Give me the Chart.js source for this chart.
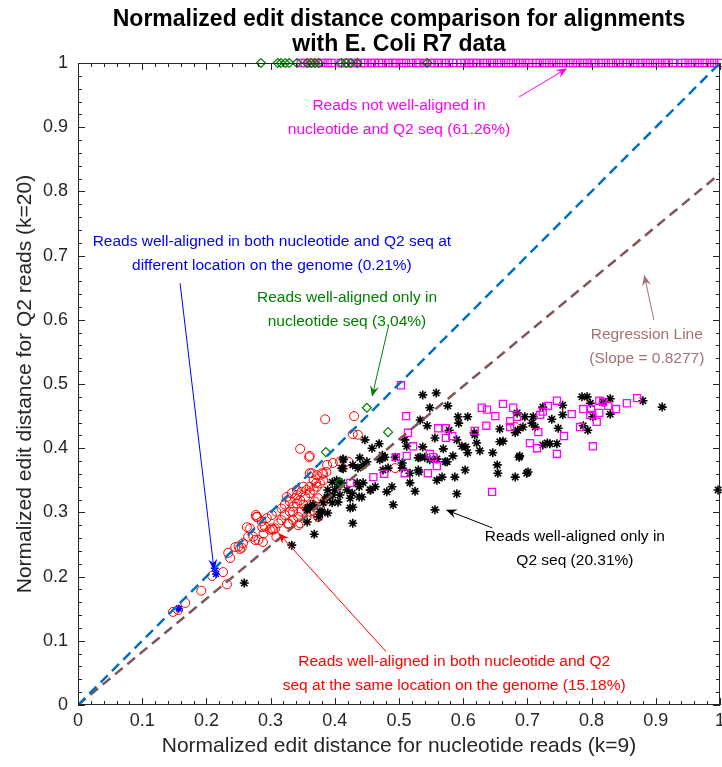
<!DOCTYPE html>
<html>
<head>
<meta charset="utf-8">
<script src="https://cdn.jsdelivr.net/npm/chart.js@4.4.1/dist/chart.umd.min.js"></script>
<style>
html, body { margin: 0; padding: 0; background: #fff; }
</style>
</head>
<body>
<canvas id="plot" width="722" height="767"></canvas>
<script>
// tick values / labels (both axes)
var tickValues = [0, 0.1, 0.2, 0.3, 0.4, 0.5, 0.6, 0.7, 0.8, 0.9, 1]
var tickLabels = ['0', '0.1', '0.2', '0.3', '0.4', '0.5', '0.6', '0.7', '0.8', '0.9', '1']

// reference lines
var diagLine = [[0, 0], [1, 1]]
var regressLine = [[0, 0], [1, 0.8277]]

// reads not well-aligned (magenta squares) - the ones sitting at y = 1
var notAlignedTopX = [0.347, 0.353, 0.361, 0.367, 0.374, 0.381, 0.389, 0.395, 0.409, 0.416, 0.421, 0.428, 0.434, 0.441,
	0.447, 0.456, 0.462, 0.469, 0.474, 0.483, 0.490, 0.496, 0.504, 0.511, 0.519, 0.527, 0.532, 0.540, 0.549, 0.555,
	0.562, 0.571, 0.578, 0.584, 0.596, 0.602, 0.609, 0.616, 0.622, 0.631, 0.637, 0.645, 0.653, 0.659, 0.667, 0.674,
	0.682, 0.689, 0.697, 0.703, 0.713, 0.719, 0.727, 0.734, 0.741, 0.749, 0.756, 0.764, 0.771, 0.778, 0.786, 0.793,
	0.800, 0.806, 0.815, 0.822, 0.830, 0.838, 0.844, 0.853, 0.860, 0.868, 0.876, 0.884, 0.891, 0.899, 0.906, 0.914,
	0.920, 0.927, 0.940, 0.946, 0.954, 0.961, 0.968, 0.976, 0.984, 0.991, 0.999]
// and the scattered ones
var notAlignedPts = [[0.503, 0.498], [0.511, 0.450], [0.514, 0.424], [0.522, 0.403], [0.512, 0.388], [0.495, 0.386],
	[0.477, 0.360], [0.509, 0.361], [0.545, 0.361], [0.548, 0.391], [0.553, 0.386], [0.559, 0.372], [0.561, 0.431],
	[0.573, 0.431], [0.573, 0.416], [0.583, 0.419], [0.618, 0.427], [0.629, 0.463], [0.637, 0.460], [0.650, 0.450],
	[0.636, 0.435], [0.662, 0.469], [0.678, 0.463], [0.673, 0.442], [0.673, 0.433], [0.684, 0.449], [0.645, 0.332],
	[0.717, 0.425], [0.704, 0.408], [0.715, 0.400], [0.746, 0.391], [0.757, 0.419], [0.720, 0.452], [0.724, 0.457],
	[0.732, 0.466], [0.746, 0.474], [0.769, 0.453], [0.787, 0.461], [0.799, 0.461], [0.798, 0.452], [0.782, 0.433],
	[0.808, 0.441], [0.812, 0.455], [0.802, 0.403], [0.812, 0.474], [0.818, 0.472], [0.826, 0.466], [0.838, 0.461],
	[0.855, 0.470], [0.871, 0.478], [0.460, 0.355], [0.424, 0.346]]

// well-aligned only in nucleotide seq (green diamonds)
var nucOnlyTopX = [0.285, 0.311, 0.316, 0.323, 0.329, 0.341, 0.357, 0.363, 0.369, 0.375, 0.410, 0.418, 0.425, 0.435, 0.544]
var nucOnlyPts = [[0.450, 0.463], [0.483, 0.425], [0.386, 0.394], [0.408, 0.347]]

// well-aligned in both, different location (blue)
var diffLocPts = [[0.213, 0.213], [0.215, 0.204], [0.157, 0.150]]

// well-aligned only in Q2 seq (black asterisks)
var q2OnlyPts = [[0.537, 0.483], [0.558, 0.486], [0.548, 0.463], [0.576, 0.466], [0.533, 0.444], [0.544, 0.435],
	[0.592, 0.449], [0.607, 0.449], [0.593, 0.439], [0.578, 0.428], [0.556, 0.416], [0.590, 0.413], [0.509, 0.413],
	[0.512, 0.403], [0.537, 0.402], [0.618, 0.421], [0.621, 0.408], [0.598, 0.403], [0.604, 0.402], [0.607, 0.393],
	[0.626, 0.396], [0.569, 0.399], [0.584, 0.388], [0.572, 0.379], [0.646, 0.393], [0.653, 0.374], [0.654, 0.361],
	[0.603, 0.366], [0.587, 0.355], [0.567, 0.355], [0.530, 0.385], [0.531, 0.363], [0.525, 0.333], [0.590, 0.329],
	[0.491, 0.312], [0.556, 0.304], [0.517, 0.346], [0.481, 0.332], [0.489, 0.340], [0.475, 0.386], [0.662, 0.411],
	[0.681, 0.424], [0.685, 0.428], [0.693, 0.433], [0.709, 0.449], [0.696, 0.449], [0.684, 0.455], [0.699, 0.361],
	[0.687, 0.386], [0.681, 0.355], [0.657, 0.410], [0.724, 0.464], [0.738, 0.445], [0.755, 0.467], [0.755, 0.452],
	[0.748, 0.431], [0.746, 0.407], [0.724, 0.405], [0.735, 0.407], [0.785, 0.480], [0.793, 0.480], [0.798, 0.470],
	[0.829, 0.477], [0.829, 0.453], [0.880, 0.474], [0.910, 0.464], [0.794, 0.428], [0.787, 0.435], [0.802, 0.449],
	[0.997, 0.335], [0.447, 0.413], [0.458, 0.400], [0.469, 0.407], [0.474, 0.389], [0.478, 0.386], [0.494, 0.386],
	[0.505, 0.377], [0.505, 0.369], [0.483, 0.369], [0.517, 0.361], [0.530, 0.366], [0.533, 0.386], [0.540, 0.386],
	[0.548, 0.382], [0.559, 0.383], [0.575, 0.379], [0.456, 0.335], [0.463, 0.340], [0.444, 0.346], [0.438, 0.340],
	[0.428, 0.283], [0.442, 0.324], [0.427, 0.330], [0.444, 0.374], [0.470, 0.382], [0.475, 0.366], [0.450, 0.379],
	[0.559, 0.350], [0.617, 0.424], [0.657, 0.430], [0.701, 0.363], [0.688, 0.388], [0.439, 0.385], [0.413, 0.382],
	[0.413, 0.368], [0.428, 0.374], [0.436, 0.369], [0.403, 0.350], [0.396, 0.347], [0.400, 0.335], [0.411, 0.346],
	[0.408, 0.327], [0.405, 0.316], [0.389, 0.335], [0.388, 0.324], [0.382, 0.315], [0.377, 0.301], [0.375, 0.293],
	[0.358, 0.307], [0.357, 0.285], [0.366, 0.312], [0.435, 0.346], [0.438, 0.324], [0.455, 0.335], [0.357, 0.304],
	[0.368, 0.266], [0.333, 0.249], [0.259, 0.190], [0.388, 0.322], [0.389, 0.299], [0.419, 0.335], [0.424, 0.322],
	[0.428, 0.308], [0.424, 0.307], [0.411, 0.369], [0.413, 0.383], [0.405, 0.340], [0.397, 0.327], [0.396, 0.315],
	[0.380, 0.301], [0.361, 0.308], [0.818, 0.472], [0.707, 0.439], [0.712, 0.433], [0.731, 0.408]]

// well-aligned in both, same location (red circles)
var sameLocPts = [[0.148, 0.145], [0.156, 0.148], [0.167, 0.159], [0.192, 0.178], [0.209, 0.201], [0.226, 0.207],
	[0.232, 0.188], [0.234, 0.237], [0.237, 0.229], [0.245, 0.246], [0.255, 0.245], [0.252, 0.243], [0.265, 0.262],
	[0.276, 0.257], [0.277, 0.296], [0.288, 0.254], [0.287, 0.277], [0.304, 0.273], [0.327, 0.282], [0.343, 0.280],
	[0.346, 0.399], [0.361, 0.388], [0.388, 0.374], [0.397, 0.377], [0.408, 0.379], [0.421, 0.379], [0.364, 0.361],
	[0.382, 0.360], [0.371, 0.346], [0.279, 0.293], [0.263, 0.277], [0.374, 0.293], [0.385, 0.445], [0.430, 0.450],
	[0.428, 0.422], [0.436, 0.421], [0.360, 0.386], [0.361, 0.361], [0.681, 0.433], [0.494, 0.369],
	[0.278, 0.293], [0.286, 0.286], [0.291, 0.278], [0.299, 0.273], [0.307, 0.275], [0.312, 0.283], [0.317, 0.288],
	[0.322, 0.296], [0.330, 0.301], [0.335, 0.309], [0.341, 0.314], [0.346, 0.319], [0.354, 0.324], [0.361, 0.330],
	[0.367, 0.335], [0.372, 0.340], [0.377, 0.345], [0.382, 0.350], [0.328, 0.283], [0.335, 0.288], [0.343, 0.293],
	[0.348, 0.301], [0.356, 0.306], [0.364, 0.312], [0.369, 0.317], [0.374, 0.322], [0.341, 0.327], [0.348, 0.332],
	[0.356, 0.335], [0.361, 0.340], [0.317, 0.306], [0.322, 0.312], [0.330, 0.317], [0.338, 0.322], [0.309, 0.301],
	[0.302, 0.296], [0.294, 0.291], [0.325, 0.324], [0.333, 0.330], [0.341, 0.335], [0.351, 0.340], [0.367, 0.350],
	[0.372, 0.358], [0.380, 0.361], [0.387, 0.363], [0.289, 0.267], [0.273, 0.262], [0.268, 0.275], [0.281, 0.257],
	[0.257, 0.252], [0.250, 0.247], [0.346, 0.283], [0.309, 0.262], [0.302, 0.275], [0.377, 0.309], [0.374, 0.293],
	[0.385, 0.319], [0.369, 0.301], [0.356, 0.293], [0.390, 0.322], [0.361, 0.301], [0.351, 0.312], [0.335, 0.301]]

// text notes: text block centre, arrow tail and tip, all in data units
var notes = [
	{ color: '#ff00ff', text: ['Reads not well-aligned in', 'nucleotide and Q2 seq (61.26%)'], at: [0.500, 0.915], from: [0.687, 0.947], to: [0.762, 0.992] },
	{ color: '#0000ff', text: ['Reads well-aligned in both nucleotide and Q2 seq at', 'different location on the genome (0.21%)'], at: [0.302, 0.703], from: [0.159, 0.657], to: [0.212, 0.210] },
	{ color: '#008000', text: ['Reads well-aligned only in', 'nucleotide seq (3.04%)'], at: [0.419, 0.615], from: [0.484, 0.592], to: [0.458, 0.480] },
	{ color: '#a07272', text: ['Regression Line', '(Slope = 0.8277)'], at: [0.886, 0.558], from: [0.897, 0.600], to: [0.882, 0.670] },
	{ color: '#000000', text: ['Reads well-aligned only in', 'Q2 seq (20.31%)'], at: [0.774, 0.243], from: [0.645, 0.276], to: [0.573, 0.304] },
	{ color: '#ff0000', text: ['Reads well-aligned in both nucleotide and Q2', 'seq at the same location on the genome (15.18%)'], at: [0.586, 0.048], from: [0.480, 0.083], to: [0.312, 0.268] }
]

var FONT = '"Liberation Sans", Arial, Helvetica, sans-serif'

function toXY(pairs) {
	return pairs.map(function (p) { return { x: p[0], y: p[1] } })
}

function atTop(xs) {
	return xs.map(function (x) { return { x: x, y: 1 } })
}

function drawArrow(ctx, x1, y1, x2, y2, color) {
	var ang = Math.atan2(y2 - y1, x2 - x1)
	var L = 11, W = 4.5
	ctx.strokeStyle = color
	ctx.fillStyle = color
	ctx.lineWidth = 1
	ctx.beginPath()
	ctx.moveTo(x1, y1)
	ctx.lineTo(x2 - Math.cos(ang) * L * 0.6, y2 - Math.sin(ang) * L * 0.6)
	ctx.stroke()
	ctx.save()
	ctx.translate(x2, y2)
	ctx.rotate(ang)
	ctx.beginPath()
	ctx.moveTo(0, 0)
	ctx.lineTo(-L, -W)
	ctx.lineTo(-L * 0.65, 0)
	ctx.lineTo(-L, W)
	ctx.closePath()
	ctx.fill()
	ctx.restore()
}

// box, inside ticks (matlab style) and the text notes
var framePlugin = {
	id: 'frame',
	afterDatasetsDraw: function (chart) {
		var ctx = chart.ctx
		var a = chart.chartArea
		var xs = chart.scales.x, ys = chart.scales.y
		ctx.save()
		ctx.strokeStyle = '#262626'
		ctx.lineWidth = 1
		ctx.beginPath()
		for (var i = 0; i <= 50; i++) {
			var len = i % 5 === 0 ? 7 : 4
			var px = Math.round(xs.getPixelForValue(i / 50)) + 0.5
			var py = Math.round(ys.getPixelForValue(i / 50)) + 0.5
			ctx.moveTo(px, a.bottom); ctx.lineTo(px, a.bottom - len)
			ctx.moveTo(px, a.top); ctx.lineTo(px, a.top + len)
			ctx.moveTo(a.left, py); ctx.lineTo(a.left + len, py)
			ctx.moveTo(a.right, py); ctx.lineTo(a.right - len, py)
		}
		ctx.stroke()
		ctx.strokeRect(Math.round(a.left) + 0.5, Math.round(a.top) + 0.5, Math.round(a.right - a.left) - 1, Math.round(a.bottom - a.top) - 1)

		ctx.font = '15.5px ' + FONT
		ctx.textAlign = 'center'
		ctx.textBaseline = 'middle'
		for (var n of notes) {
			var cx = xs.getPixelForValue(n.at[0])
			var cy = ys.getPixelForValue(n.at[1])
			var gap = 24
			ctx.fillStyle = n.color
			n.text.forEach(function (t, k) {
				ctx.fillText(t, cx, cy + (k - (n.text.length - 1) / 2) * gap)
			})
			drawArrow(ctx, xs.getPixelForValue(n.from[0]), ys.getPixelForValue(n.from[1]),
				xs.getPixelForValue(n.to[0]), ys.getPixelForValue(n.to[1]), n.color)
		}
		ctx.restore()
	}
}

function axis(pos, titleText) {
	var horiz = pos === 'bottom'
	return {
		type: 'linear',
		position: pos,
		min: 0,
		max: 1,
		afterFit: function (s) {
			if (horiz) s.height = 62
			else s.width = 78
			// no extra room for the end labels, the plot box is fixed
			s.paddingLeft = 0
			s.paddingRight = 0
			s.paddingTop = 0
			s.paddingBottom = 0
		},
		afterBuildTicks: function (s) {
			s.ticks = tickValues.map(function (v) { return { value: v } })
		},
		ticks: {
			autoSkip: false,
			maxRotation: 0,
			padding: horiz ? 5 : 10,
			color: '#262626',
			font: { family: FONT, size: 18 },
			callback: function (v, i) { return tickLabels[i] }
		},
		grid: { display: false, drawTicks: false },
		border: { display: false },
		title: {
			display: true,
			text: titleText,
			color: '#262626',
			font: { family: FONT, size: 21 },
			padding: horiz ? { top: 0, bottom: 8 } : { top: 13, bottom: 0 }
		}
	}
}

function scatterSet(data, style, radius, color, width) {
	return {
		type: 'scatter',
		data: data,
		pointStyle: style,
		pointRadius: radius,
		pointBorderColor: color,
		pointBackgroundColor: 'rgba(0,0,0,0)',
		pointBorderWidth: width,
		showLine: false,
		clip: false
	}
}

function lineSet(pairs, color) {
	return {
		type: 'line',
		data: toXY(pairs),
		borderColor: color,
		borderWidth: 2.5,
		borderDash: [10, 6],
		pointRadius: 0,
		fill: false
	}
}

new Chart(document.getElementById('plot'), {
	data: {
		datasets: [
			lineSet(diagLine, '#0072bd'),
			lineSet(regressLine, '#7e5656'),
			scatterSet(atTop(nucOnlyTopX).concat(toXY(nucOnlyPts)), 'rectRot', 4.5, '#008000', 1.2),
			scatterSet(toXY(diffLocPts), 'star', 4, '#0000ff', 1.5),
			scatterSet(atTop(notAlignedTopX).concat(toXY(notAlignedPts)), 'rect', 5, '#ff00ff', 1.3),
			scatterSet(toXY(q2OnlyPts), 'star', 4.5, '#000000', 1.6),
			scatterSet(toXY(sameLocPts), 'circle', 4.5, '#ff0000', 1)
		]
	},
	options: {
		responsive: false,
		animation: false,
		devicePixelRatio: 1,
		events: [],
		layout: { autoPadding: false, padding: { left: 0, right: 2, top: 0, bottom: 0 } },
		scales: {
			x: axis('bottom', 'Normalized edit distance for nucleotide reads (k=9)'),
			y: axis('left', 'Normalized edit distance for Q2 reads (k=20)')
		},
		plugins: {
			legend: { display: false },
			tooltip: { enabled: false },
			title: {
				display: true,
				fullSize: false,
				text: ['Normalized edit distance comparison for alignments', 'with E. Coli R7 data'],
				color: '#000000',
				font: { family: FONT, size: 23, weight: 'bold', lineHeight: '25px' },
				padding: { top: 7, bottom: 6 }
			}
		}
	},
	plugins: [framePlugin]
})
</script>
</body>
</html>
